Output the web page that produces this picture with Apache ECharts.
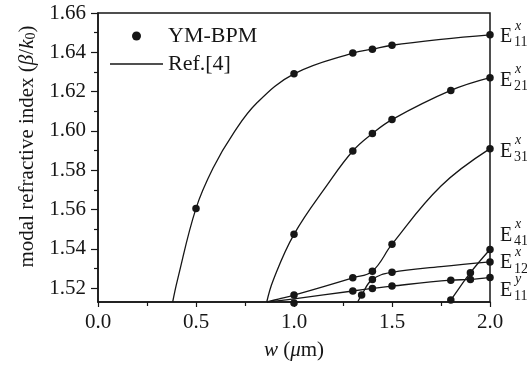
<!DOCTYPE html>
<html>
<head>
<meta charset="utf-8">
<script src="https://cdn.jsdelivr.net/npm/echarts@6/dist/echarts.min.js"></script>
<style>
html,body{margin:0;padding:0;background:#fff;}
#chart{width:527px;height:367px;}
</style>
</head>
<body>
<div id="chart"></div>
<script>
// ---- data (w in µm, modal index) ----
const e11xRef = [[0.381,1.513],[0.405,1.524],[0.5,1.5606],[0.59,1.5817],[0.69,1.5987],[0.81,1.6142],[1.0,1.629],[1.3,1.6396],[1.4,1.6416],[1.5,1.6436],[1.75,1.6466],[2.0,1.6489]];
const e11xBpm = [[0.5,1.5606],[1.0,1.6291],[1.3,1.6396],[1.4,1.6416],[1.5,1.6436],[2.0,1.6489]];

const e21xRef = [[0.861,1.513],[0.894,1.5241],[1.0,1.5474],[1.175,1.5733],[1.3,1.5898],[1.4,1.5987],[1.5,1.6058],[1.8,1.6206],[2.0,1.6271]];
const e21xBpm = [[1.0,1.5474],[1.3,1.5898],[1.4,1.5987],[1.5,1.6058],[1.8,1.6206],[2.0,1.6271]];

const e31xRef = [[0.862,1.513],[0.92,1.5145],[1.0,1.5165],[1.3,1.5253],[1.4,1.5287],[1.5,1.5424],[1.75,1.572],[2.0,1.591]];
const e31xBpm = [[1.0,1.5165],[1.3,1.5253],[1.4,1.5287],[1.5,1.5424],[2.0,1.591]];

const e41xRef = [[1.79,1.513],[1.8,1.514],[1.9,1.5279],[2.0,1.5397]];
const e41xBpm = [[1.8,1.514],[1.9,1.5279],[2.0,1.5397]];

const e12xRef = [[1.325,1.513],[1.345,1.5166],[1.4,1.5245],[1.5,1.5281],[1.75,1.531],[2.0,1.5334]];
const e12xBpm = [[1.345,1.5166],[1.4,1.5245],[1.5,1.5281],[2.0,1.5334]];

const e11yRef = [[0.862,1.513],[1.0,1.5146],[1.3,1.5186],[1.4,1.5199],[1.5,1.5211],[1.8,1.5241],[1.9,1.5245],[2.0,1.5255]];
const e11yBpm = [[1.0,1.5125],[1.3,1.5186],[1.4,1.5199],[1.5,1.5211],[1.8,1.5241],[1.9,1.5245],[2.0,1.5255]];

const yTickValues = [1.52,1.54,1.56,1.58,1.60,1.62,1.64,1.66];
const yMinorValues = [1.53,1.55,1.57,1.59,1.61,1.63,1.65];

const modes = [
  {sup:'x', sub:'11', ref:e11xRef, bpm:e11xBpm},
  {sup:'x', sub:'21', ref:e21xRef, bpm:e21xBpm},
  {sup:'x', sub:'31', ref:e31xRef, bpm:e31xBpm},
  {sup:'x', sub:'41', ref:e41xRef, bpm:e41xBpm},
  {sup:'x', sub:'12', ref:e12xRef, bpm:e12xBpm},
  {sup:'y', sub:'11', ref:e11yRef, bpm:e11yBpm}
];

// ---- chart ----
const INK = '#161616';
const SERIF = '"Liberation Serif","DejaVu Serif",serif';
const chart = echarts.init(document.getElementById('chart'), null, {renderer:'canvas'});

const series = [];
modes.forEach(m => {
  series.push({
    name:'Ref.[4]', type:'line', data:m.ref, smooth:0.4,
    symbol:'none', showSymbol:false, lineStyle:{color:INK, width:1.3}, itemStyle:{color:INK},
    silent:true, z:2
  });
});
modes.forEach(m => {
  series.push({
    name:'YM-BPM', type:'scatter', data:m.bpm, symbol:'circle', symbolSize:7.5,
    itemStyle:{color:INK, opacity:1}, clip:false, silent:true, z:3
  });
});

chart.setOption({
  animation:false,
  backgroundColor:'#fff',
  grid:{left:98, right:37, top:13, bottom:65, show:true, borderColor:INK, borderWidth:1.5, backgroundColor:'transparent'},
  legend:{
    orient:'vertical', left:105, top:20, itemWidth:53, itemHeight:9, itemGap:6,
    data:[
      {name:'YM-BPM', icon:'circle', itemStyle:{color:INK, opacity:1}},
      {name:'Ref.[4]', icon:'path://M0,0L53,0L53,1.3L0,1.3Z', itemStyle:{color:INK, opacity:1}}
    ],
    textStyle:{fontFamily:SERIF, fontSize:22, color:INK, lineHeight:22},
    selectedMode:false
  },
  xAxis:{
    type:'value', min:0, max:2, interval:0.5,
    axisLine:{show:true, lineStyle:{color:INK, width:1.5}},
    axisTick:{show:true, length:5, lineStyle:{color:INK, width:1.2}},
    minorTick:{show:true, splitNumber:2, length:4, lineStyle:{color:INK, width:1.2}},
    splitLine:{show:false}, minorSplitLine:{show:false},
    axisLabel:{formatter:v=>v.toFixed(1), fontFamily:SERIF, fontSize:21, color:INK, margin:10},
    name:'{i|w} ({i|μ}m)', nameLocation:'middle', nameGap:38,
    nameTextStyle:{fontFamily:SERIF, fontSize:21, color:INK,
      rich:{i:{fontFamily:SERIF, fontSize:21, fontStyle:'italic', color:INK}}}
  },
  yAxis:[{
    type:'value', min:1.513, max:1.66, position:'left',
    axisLine:{show:true, lineStyle:{color:INK, width:1.5}},
    axisTick:{show:true, customValues:yTickValues, length:7, lineStyle:{color:INK, width:1.2}},
    axisLabel:{customValues:yTickValues, formatter:v=>v.toFixed(2), fontFamily:SERIF, fontSize:21, color:INK, margin:12},
    splitLine:{show:false},
    name:'{n|modal refractive index (}{i|β}{n|/}{i|k}{s|0}{n|)}', nameLocation:'middle', nameGap:60,
    nameTextStyle:{fontFamily:SERIF, fontSize:21, color:INK, padding:[0,0,0,22],
      rich:{
        n:{fontFamily:SERIF, fontSize:21, color:INK, lineHeight:22},
        i:{fontFamily:SERIF, fontSize:21, fontStyle:'italic', color:INK, lineHeight:22},
        s:{fontFamily:SERIF, fontSize:14, color:INK, verticalAlign:'bottom', lineHeight:22, padding:[8,0,0,0]}
      }}
  },{
    type:'value', min:1.513, max:1.66, position:'left',
    axisLine:{show:false},
    axisTick:{show:true, customValues:yMinorValues, length:4, lineStyle:{color:INK, width:1.2}},
    axisLabel:{show:false}, splitLine:{show:false}
  }],
  series:series
});

// ---- mode labels at the right end, placed via the axis scales ----
const labelDy = [2, 3, 3, -14, 1, 13];
const graphics = [];
modes.forEach((m, i) => {
  const last = m.ref[m.ref.length - 1];
  const p = chart.convertToPixel({gridIndex:0}, last);
  const x = p[0], y = p[1] + labelDy[i];
  graphics.push({type:'text', x:x+10, y:y, silent:true,
    style:{text:'E', fontFamily:SERIF, fontSize:20, fill:INK, align:'left', verticalAlign:'middle'}});
  graphics.push({type:'text', x:x+25, y:y-11, silent:true,
    style:{text:m.sup, fontFamily:SERIF, fontSize:14, fontStyle:'italic', fill:INK, align:'left', verticalAlign:'middle'}});
  graphics.push({type:'text', x:x+24, y:y+6, silent:true,
    style:{text:m.sub, fontFamily:SERIF, fontSize:14, fill:INK, align:'left', verticalAlign:'middle'}});
});
chart.setOption({graphic:graphics});
</script>
</body>
</html>
